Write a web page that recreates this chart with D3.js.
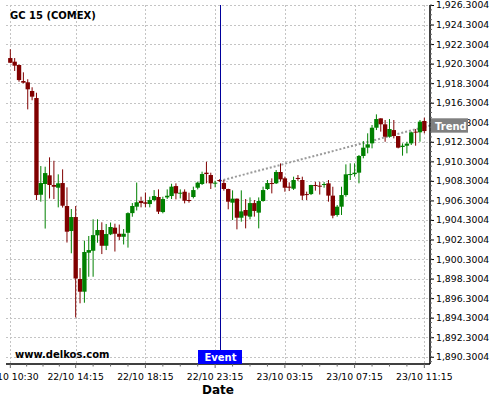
<!DOCTYPE html>
<html>
<head>
<meta charset="utf-8">
<script src="https://cdn.jsdelivr.net/npm/d3@7"></script>
<style>
  html, body { margin: 0; padding: 0; background: #fff; }
  svg { display: block; font-family: "DejaVu Sans", sans-serif; }
</style>
</head>
<body>
<script>
// ---- data (15-minute candles, index 0 = 22/10 10:30) ----
const title = "GC 15 (COMEX)";
const openV = [1920.87,1920.50,1920.16,1918.52,1918.39,1917.50,1916.78,1906.88,1907.98,1908.87,
  1907.88,1907.60,1908.08,1905.73,1903.17,1904.60,1898.26,1896.96,1900.95,1901.15,
  1902.73,1903.27,1901.66,1902.83,1903.51,1902.89,1902.58,1902.99,1905.00,1905.66,
  1906.24,1906.11,1905.93,1906.34,1906.65,1905.11,1906.61,1906.75,1907.77,1907.02,
  1907.19,1906.34,1906.65,1907.60,1907.98,1909.14,1908.90,1908.05,1908.39,1908.08,
  1907.47,1906.07,1906.48,1904.53,1905.32,1904.64,1906.03,1905.05,1906.24,1907.47,
  1908.08,1908.05,1909.21,1908.56,1907.71,1907.50,1908.60,1908.39,1906.95,1906.95,
  1907.88,1907.81,1907.88,1908.05,1906.79,1904.81,1905.66,1906.85,1908.90,1909.00,
  1909.14,1910.85,1911.70,1912.14,1913.74,1914.70,1914.09,1912.82,1913.50,1912.89,
  1911.77,1911.90,1912.14,1913.34,1913.27,1914.43];
const highV = [1921.77,1920.87,1920.20,1919.41,1918.70,1917.88,1917.32,1909.82,1909.75,1910.71,
  1910.36,1908.97,1909.48,1907.64,1905.42,1905.73,1899.38,1902.18,1902.66,1904.37,
  1904.37,1904.06,1903.89,1904.04,1903.92,1903.83,1903.37,1905.08,1906.03,1908.13,
  1906.68,1907.11,1906.68,1907.36,1907.43,1906.68,1907.43,1908.01,1908.05,1907.43,
  1907.43,1907.09,1907.71,1908.22,1909.24,1910.26,1909.14,1908.32,1908.46,1908.39,
  1907.50,1907.33,1906.50,1907.33,1906.44,1906.61,1906.34,1906.61,1907.71,1908.39,
  1908.56,1909.41,1910.09,1908.73,1908.15,1908.73,1908.90,1908.73,1907.20,1907.90,
  1908.20,1908.20,1908.18,1908.39,1907.70,1905.83,1907.70,1909.99,1910.10,1910.10,
  1910.95,1912.38,1913.17,1914.02,1915.11,1914.70,1914.53,1914.63,1914.53,1912.89,
  1912.14,1912.31,1913.34,1913.61,1914.53,1914.77];
const lowV = [1920.35,1919.55,1918.45,1918.29,1915.62,1916.55,1906.34,1906.17,1903.42,1906.50,
  1906.44,1905.59,1905.57,1901.99,1900.89,1894.32,1895.77,1895.83,1898.49,1898.49,
  1901.97,1900.81,1901.22,1902.75,1901.07,1902.25,1901.79,1901.47,1904.63,1905.27,
  1905.59,1905.59,1905.59,1906.20,1904.91,1904.98,1906.44,1906.44,1906.41,1906.51,
  1906.00,1906.07,1906.51,1907.43,1907.88,1908.05,1907.47,1907.64,1908.22,1907.30,
  1905.39,1904.30,1903.34,1904.12,1903.44,1904.36,1904.64,1903.44,1906.17,1907.37,
  1907.02,1907.98,1908.22,1907.19,1907.26,1907.37,1908.30,1906.34,1906.34,1906.85,
  1907.30,1906.90,1907.60,1906.17,1904.47,1904.64,1904.81,1906.68,1908.39,1908.73,
  1908.05,1910.61,1911.12,1911.63,1913.50,1913.34,1912.30,1912.72,1912.65,1911.63,
  1910.88,1911.12,1911.97,1911.90,1912.31,1913.17];
const closeV = [1920.39,1920.09,1918.62,1918.35,1917.67,1916.92,1906.85,1908.08,1909.10,1907.88,
  1907.70,1908.05,1905.76,1903.10,1904.60,1898.31,1896.96,1901.02,1901.22,1902.75,
  1903.27,1901.66,1902.86,1903.58,1902.89,1902.58,1902.89,1905.00,1905.73,1906.11,
  1906.03,1905.96,1906.34,1906.75,1905.15,1906.44,1906.78,1907.71,1907.02,1907.09,
  1906.27,1906.27,1907.36,1908.12,1909.00,1909.00,1908.05,1908.12,1908.32,1907.47,
  1906.17,1906.48,1904.53,1905.18,1904.74,1906.03,1905.22,1906.24,1907.36,1908.08,
  1908.01,1909.21,1908.46,1907.60,1907.60,1908.39,1908.50,1906.79,1906.88,1907.88,
  1907.81,1907.72,1907.98,1906.79,1904.74,1905.66,1906.85,1908.97,1909.00,1909.14,
  1910.85,1911.70,1912.04,1913.74,1914.63,1914.09,1912.82,1913.61,1912.89,1911.70,
  1911.90,1912.11,1913.27,1913.27,1914.36,1913.40];

const xTickIndex = [0, 15, 31, 47, 63, 79, 95];
const xTickLabels = ["22/10 10:30","22/10 14:15","22/10 18:15","22/10 23:15","23/10 03:15","23/10 07:15","23/10 11:15"];
const yTickValues = d3.range(0, 19).map(k => 1890.3004 + 2 * k);
const eventIndex = 48;
const trendStart = 1908.29, trendEnd = 1913.97;

// ---- layout ----
const W = 500, H = 400;
const L = 6, R = 430, T = 5, B = 364;

const svg = d3.select("body").append("svg").attr("width", W).attr("height", H);

const x = d3.scaleLinear().domain([-0.99, 96.3]).range([L, R]);
const y = d3.scaleLinear().domain([1889.56, 1926.3004]).range([B, T]);
const step = x(1) - x(0);

// grid
const grid = svg.append("g").attr("stroke", "#c4c4c4").attr("stroke-width", 1).attr("stroke-dasharray", "2,2");
grid.selectAll("line.h").data(yTickValues).join("line")
  .attr("x1", L).attr("x2", R)
  .attr("y1", d => Math.round(y(d)) + 0.5).attr("y2", d => Math.round(y(d)) + 0.5);
grid.selectAll("line.v").data(xTickIndex).join("line")
  .attr("y1", T).attr("y2", B)
  .attr("x1", d => Math.round(x(d)) + 0.5).attr("x2", d => Math.round(x(d)) + 0.5);

// trend line
svg.append("line")
  .attr("x1", x(eventIndex)).attr("y1", y(trendStart))
  .attr("x2", R).attr("y2", y(trendEnd))
  .attr("stroke", "#9a9a9a").attr("stroke-width", 2).attr("stroke-dasharray", "2,2");

// candles
const idx = d3.range(openV.length);
const col = i => closeV[i] >= openV[i] ? "#008000" : "#800000";
const cg = svg.append("g");
cg.selectAll("line").data(idx).join("line")
  .attr("x1", i => x(i)).attr("x2", i => x(i))
  .attr("y1", i => y(highV[i])).attr("y2", i => y(lowV[i]))
  .attr("stroke", col).attr("stroke-width", 1);
cg.selectAll("rect").data(idx).join("rect")
  .attr("x", i => x(i) - step * 0.5)
  .attr("width", step)
  .attr("y", i => y(Math.max(openV[i], closeV[i])))
  .attr("height", i => Math.max(1, Math.abs(y(openV[i]) - y(closeV[i]))))
  .attr("fill", col);

// event line
const ex = Math.round(x(eventIndex)) + 0.5;
svg.append("line").attr("x1", ex).attr("x2", ex).attr("y1", T).attr("y2", 350)
  .attr("stroke", "#00009c").attr("stroke-width", 1);

// y axis (right)
const yAxis = d3.axisRight(y).tickValues(yTickValues).tickFormat(d3.format(",.4f")).tickSize(4).tickPadding(2);
const ya = svg.append("g").attr("transform", `translate(${R},0)`).call(yAxis);
ya.select(".domain").attr("stroke", "#000").attr("stroke-width", 1.5).attr("d", `M0,${T}V${B}`);
ya.selectAll("text").attr("font-size", 9.3).attr("font-family", "DejaVu Sans").attr("fill", "#000");
// minor y ticks
const yMinor = d3.range(1890.3004 - 0.5, 1926.31, 0.5).filter(v => y(v) >= T && y(v) <= B);
svg.append("g").selectAll("line").data(yMinor).join("line")
  .attr("x1", R).attr("x2", R + 2)
  .attr("y1", d => y(d)).attr("y2", d => y(d))
  .attr("stroke", "#666").attr("stroke-width", 1);

// x axis (bottom)
const xa = svg.append("g").attr("transform", `translate(0,${B})`);
xa.append("line").attr("x1", L).attr("x2", R).attr("y1", 0).attr("y2", 0)
  .attr("stroke", "#000").attr("stroke-width", 1.5);
const xMinor = [];
for (let k = 0; k < xTickIndex.length - 1; k++) {
  const a = xTickIndex[k], b = xTickIndex[k + 1];
  for (let q = 1; q < 4; q++) xMinor.push(a + (b - a) * q / 4);
}
xa.selectAll("line.mj").data(xTickIndex).join("line").attr("class", "mj")
  .attr("x1", d => x(d)).attr("x2", d => x(d)).attr("y1", 0).attr("y2", 4)
  .attr("stroke", "#666");
xa.selectAll("line.mn").data(xMinor).join("line").attr("class", "mn")
  .attr("x1", d => x(d)).attr("x2", d => x(d)).attr("y1", 0).attr("y2", 2.5)
  .attr("stroke", "#666");
xa.selectAll("text").data(xTickIndex).join("text")
  .attr("x", d => x(d)).attr("y", 16)
  .attr("text-anchor", "middle").attr("font-size", 9.3).attr("fill", "#000")
  .text((d, i) => xTickLabels[i]);

// event label
svg.append("rect").attr("x", ex - 22.5).attr("y", 350).attr("width", 44).attr("height", 14).attr("fill", "#0000ff");
svg.append("text").attr("x", ex).attr("y", 361).attr("text-anchor", "middle")
  .attr("font-size", 10).attr("font-weight", "bold").attr("fill", "#fff").text("Event");

// trend label
const ty = y(trendEnd);
svg.append("rect").attr("x", R + 1).attr("y", ty - 7.2).attr("width", 37).attr("height", 14.4).attr("fill", "#808080");
svg.append("text").attr("x", R + 5).attr("y", ty + 4.5)
  .attr("font-size", 10).attr("font-weight", "bold").attr("fill", "#fff").text("Trend");

// texts
svg.append("text").attr("x", 10).attr("y", 18.5).attr("font-size", 10).attr("font-weight", "bold").text(title);
svg.append("text").attr("x", 15).attr("y", 357.5).attr("font-size", 10).attr("font-weight", "bold").text("www.delkos.com");
svg.append("text").attr("x", (L + R) / 2).attr("y", 394).attr("text-anchor", "middle")
  .attr("font-size", 12).attr("font-weight", "bold").text("Date");
</script>
</body>
</html>
